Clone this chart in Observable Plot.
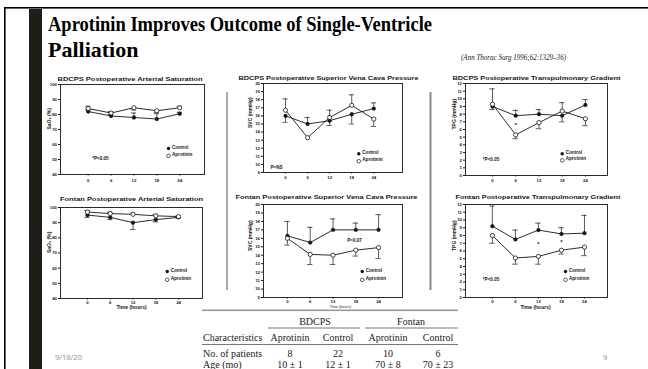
<!DOCTYPE html>
<html><head><meta charset="utf-8">
<script src="https://cdn.jsdelivr.net/npm/d3@7"></script>
<script src="https://cdn.jsdelivr.net/npm/@observablehq/plot@0.6"></script>
<style>
html,body{margin:0;padding:0;background:#fff;}
#slide{position:relative;width:648px;height:369px;overflow:hidden;background:#fff;}
.chart{position:absolute;}
</style></head><body><div id="slide"></div>
<script>
// ---------- data ----------
const hours = [0, 6, 12, 18, 24];
const seriesNames = ["Control", "Aprotinin"];
const satTicks = [40, 50, 60, 70, 80, 90, 100];
const svcTicks = [9, 10, 11, 12, 13, 14, 15, 16, 17, 18, 19, 20];
const tpgTicks = [0, 1, 2, 3, 4, 5, 6, 7, 8, 9, 10, 11, 12];

// BDCPS postoperative arterial saturation (%)
const bdcpsSatControl      = [82, 79, 78, 77, 80.5];
const bdcpsSatControlErr   = [83, 80, 81, 80.5, 81.5];
const bdcpsSatAprotinin    = [84, 81, 84.5, 82.5, 84.5];
const bdcpsSatAprotininErr = [85.5, 82, 83, 81.5, 85.5];

// BDCPS postoperative SVC pressure (mmHg)
const bdcpsSvcControl      = [16.0, 15.0, 15.4, 16.2, 16.9];
const bdcpsSvcControlErr   = [15.2, 15.8, 14.8, 15.0, 17.6];
const bdcpsSvcAprotinin    = [16.7, 13.3, 15.8, 17.3, 15.6];
const bdcpsSvcAprotininErr = [18.1, 13.3, 16.7, 18.6, 14.7];

// BDCPS postoperative transpulmonary gradient (mmHg)
const bdcpsTpgControl      = [9.0, 7.8, 8.0, 7.8, 9.2];
const bdcpsTpgControlErr   = [8.6, 8.5, 8.6, 7.0, 9.9];
const bdcpsTpgAprotinin    = [9.3, 5.3, 6.9, 8.4, 7.4];
const bdcpsTpgAprotininErr = [11.3, 4.8, 6.1, 9.5, 6.5];
const bdcpsTpgStarHours  = [6];
const bdcpsTpgStarValues = [6.7];

// Fontan postoperative arterial saturation (%)
const fontanSatControl      = [95, 93.5, 90, 92, 93.5];
const fontanSatControlErr   = [93.5, 92, 85.5, 90.5, 93];
const fontanSatAprotinin    = [97, 96, 95.5, 94.5, 94];
const fontanSatAprotininErr = [98, 97, 96.3, 95.5, 94.5];

// Fontan postoperative SVC pressure (mmHg)
const fontanSvcControl      = [16.3, 15.5, 17.0, 17.0, 17.0];
const fontanSvcControlErr   = [18.0, 17.3, 18.3, 17.8, 18.8];
const fontanSvcAprotinin    = [16.0, 14.1, 14.0, 14.6, 14.9];
const fontanSvcAprotininErr = [15.2, 12.9, 12.9, 13.9, 13.6];

// Fontan postoperative transpulmonary gradient (mmHg)
const fontanTpgControl      = [9.2, 7.5, 8.7, 8.2, 8.3];
const fontanTpgControlErr   = [11.8, 8.7, 9.6, 9.0, 10.6];
const fontanTpgAprotinin    = [8.0, 5.1, 5.3, 6.1, 6.5];
const fontanTpgAprotininErr = [7.0, 4.3, 4.3, 5.6, 5.4];
const fontanTpgStarHours  = [12, 18];
const fontanTpgStarValues = [7.0, 7.3];

// Texts
const slideTitle1 = "Aprotinin Improves Outcome of Single-Ventricle";
const slideTitle2 = "Palliation";
const citation = "(Ann Thorac Surg 1996;62:1329\u201336)";
const footerDate = "9/18/20";
const footerPage = "9";
const tableGroups = ["BDCPS", "Fontan"];
const tableHeader = ["Characteristics", "Aprotinin", "Control", "Aprotinin", "Control"];
const tableRow1 = ["No. of patients", "8", "22", "10", "6"];
const tableRow2 = ["Age (mo)", "10 \u00b1 1", "12 \u00b1 1", "70 \u00b1 8", "70 \u00b1 23"];

// ---------- layout ----------
const charts = [
  {title:"BDCPS Postoperative Arterial Saturation", tw:145, tdx:-2.5, tdy:-8, frame:[60,84,204,174], xd:[-7.26,30.5], yd:[40,100], yt:satTicks, yl:"SaO\u2082 (%)", yldx:-11, tp:2.5,
   c:bdcpsSatControl, ce:bdcpsSatControlErr, a:bdcpsSatAprotinin, ae:bdcpsSatAprotininErr, leg:[-36,-26,7.4],
   note:{t:"*P<0.05", anchor:"bottom-left", dx:31.7, dy:-14.7}},
  {title:"BDCPS Postoperative Superior Vena Cava Pressure", tw:180, tdx:-4.5, tdy:-8, frame:[263,83,402,172], xd:[-5.98,31.8], yd:[9,20], yt:svcTicks, yl:"SVC (mmHg)", yldx:-13, tp:1.5,
   c:bdcpsSvcControl, ce:bdcpsSvcControlErr, a:bdcpsSvcAprotinin, ae:bdcpsSvcAprotininErr, leg:[-43.7,-18.7,7.4],
   note:{t:"P=NS", anchor:"bottom-left", dx:7, dy:-3.7}},
  {title:"BDCPS Postoperative Transpulmonary Gradient", tw:168, tdx:0, tdy:-8, frame:[465,83,607,175], xd:[-6.97,29.7], yd:[0,12], yt:tpgTicks, yl:"TPG (mmHg)", yldx:-11, tp:1.5,
   c:bdcpsTpgControl, ce:bdcpsTpgControlErr, a:bdcpsTpgAprotinin, ae:bdcpsTpgAprotininErr, leg:[-45.3,-21.7,6.5],
   sh:bdcpsTpgStarHours, sv:bdcpsTpgStarValues,
   note:{t:"*P<0.05", anchor:"bottom-left", dx:17.3, dy:-15}},
  {title:"Fontan Postoperative Arterial Saturation", tw:143, tdx:0, tdy:-11, frame:[60,207,202,298], xd:[-7.1,30.3], yd:[40,100], yt:satTicks, yl:"SaO\u2082 (%)", yldx:-11, tp:0.8,
   c:fontanSatControl, ce:fontanSatControlErr, a:fontanSatAprotinin, ae:fontanSatAprotininErr, leg:[-35.3,-27,8.3],
   xl:"Time (hours)", xldx:0, xldy:10.5, xlfs:5},
  {title:"Fontan Postoperative Superior Vena Cava Pressure", tw:182, tdx:-6.5, tdy:-9.5, frame:[263,204,402,297], xd:[-6.3,30.3], yd:[9,20], yt:svcTicks, yl:"SVC (mmHg)", yldx:-13, tp:0.8,
   c:fontanSvcControl, ce:fontanSvcControlErr, a:fontanSvcAprotinin, ae:fontanSvcAprotininErr, leg:[-40.3,-26,8.3],
   xl:"Time (hours)", xldx:7.5, xldy:10.5, xlfs:3.5,
   note:{t:"P=0.07", anchor:"top-left", dx:83.7, dy:34.3}},
  {title:"Fontan Postoperative Transpulmonary Gradient", tw:165, tdx:1.5, tdy:-9.5, frame:[465,204,607,297], xd:[-7.0,30.0], yd:[0,12], yt:tpgTicks, yl:"TPG (mmHg)", yldx:-11, tp:0.8,
   c:fontanTpgControl, ce:fontanTpgControlErr, a:fontanTpgAprotinin, ae:fontanTpgAprotininErr, leg:[-42,-26,8.3],
   sh:fontanTpgStarHours, sv:fontanTpgStarValues,
   xl:"Time (hours)", xldx:-1, xldy:11.5, xlfs:5,
   note:{t:"*P<0.05", anchor:"bottom-left", dx:17.3, dy:-17}}
];

const slide = d3.select("#slide");
const ink = "#161616";
const sans = "'Liberation Sans', Arial, Helvetica, sans-serif";
const serif = "'Liberation Serif', 'Times New Roman', serif";

// ---------- decoration / slide text ----------
const deco = slide.append("svg").attr("width", 648).attr("height", 369)
  .style("position", "absolute").style("left", "0px").style("top", "0px");
deco.append("rect").attr("x", 4).attr("y", 7).attr("width", 644).attr("height", 1.6).attr("fill", "#000");
deco.append("rect").attr("x", 4).attr("y", 7).attr("width", 1.6).attr("height", 362).attr("fill", "#000");
deco.append("rect").attr("x", 29).attr("y", 9).attr("width", 13).attr("height", 360).attr("fill", "#1e1e16");
deco.append("rect").attr("x", 226.5).attr("y", 92).attr("width", 1).attr("height", 198).attr("fill", "#555");
deco.append("rect").attr("x", 429.5).attr("y", 92).attr("width", 2).attr("height", 198).attr("fill", "#8a8a8a");

deco.append("text").attr("x", 48).attr("y", 31).attr("font-family", serif).attr("font-weight", "bold")
  .attr("font-size", 22).attr("fill", "#000").attr("textLength", 384).attr("lengthAdjust", "spacingAndGlyphs").text(slideTitle1);
deco.append("text").attr("x", 48).attr("y", 57).attr("font-family", serif).attr("font-weight", "bold")
  .attr("font-size", 22).attr("fill", "#000").text(slideTitle2);
deco.append("text").attr("x", 461).attr("y", 59.5).attr("font-family", serif).attr("font-style", "italic")
  .attr("font-size", 7.5).attr("fill", "#222").attr("textLength", 105).attr("lengthAdjust", "spacingAndGlyphs").text(citation);

deco.append("text").attr("x", 55).attr("y", 360).attr("font-family", "'Open Sans', 'Liberation Sans', sans-serif")
  .attr("font-size", 7.5).attr("fill", "#8c8c8c").text(footerDate);
deco.append("text").attr("x", 603).attr("y", 360).attr("font-family", "'Open Sans', 'Liberation Sans', sans-serif")
  .attr("font-size", 7.5).attr("fill", "#8c8c8c").text(footerPage);

// table
const colX = [203, 290, 338, 388, 438];
const groupX = [315, 411];
const tcol = "#1a1a1a";
deco.append("rect").attr("x", 202).attr("y", 309.5).attr("width", 256).attr("height", 1.6).attr("fill", "#999");
tableGroups.forEach((g, i) => {
  deco.append("text").attr("x", groupX[i]).attr("y", 324.5).attr("text-anchor", "middle")
    .attr("font-family", serif).attr("font-size", 10).attr("fill", tcol).text(g);
});
deco.append("rect").attr("x", 268).attr("y", 327.5).attr("width", 92).attr("height", 1).attr("fill", "#777");
deco.append("rect").attr("x", 365).attr("y", 327.5).attr("width", 93).attr("height", 1).attr("fill", "#777");
tableHeader.forEach((h, i) => {
  deco.append("text").attr("x", colX[i]).attr("y", 341).attr("text-anchor", i === 0 ? "start" : "middle")
    .attr("font-family", serif).attr("font-size", 10).attr("fill", tcol).text(h);
});
deco.append("rect").attr("x", 202).attr("y", 344).attr("width", 256).attr("height", 1).attr("fill", "#777");
[tableRow1, tableRow2].forEach((row, r) => {
  row.forEach((v, i) => {
    deco.append("text").attr("x", colX[i]).attr("y", r === 0 ? 357 : 367.5).attr("text-anchor", i === 0 ? "start" : "middle")
      .attr("font-family", serif).attr("font-size", 10).attr("fill", tcol).text(v);
  });
});

// ---------- charts ----------
const mL = 26, mT = 16, mR = 20, mB = 16;
charts.forEach(cfg => {
  const [x0, y0, x1, y1] = cfg.frame;
  const ctrl = hours.map((h, i) => ({hour: h, value: cfg.c[i], err: cfg.ce[i]}));
  const apro = hours.map((h, i) => ({hour: h, value: cfg.a[i], err: cfg.ae[i]}));
  const stars = (cfg.sh || []).map((h, i) => ({hour: h, value: cfg.sv[i]}));
  const errMarks = d => [
    Plot.ruleX(d, {x: "hour", y1: "value", y2: "err", stroke: ink, strokeWidth: 0.7}),
    Plot.ruleY(d.filter(e => e.err !== e.value), {y: "err", x1: e => e.hour - 0.7, x2: e => e.hour + 0.7, stroke: ink, strokeWidth: 0.7})
  ];
  const [lx, ly, lgap] = cfg.leg;
  const marks = [
    Plot.frame({stroke: ink, strokeWidth: 0.9}),
    ...errMarks(ctrl), ...errMarks(apro),
    Plot.line(ctrl, {x: "hour", y: "value", stroke: ink, strokeWidth: 0.9}),
    Plot.line(apro, {x: "hour", y: "value", stroke: ink, strokeWidth: 0.9}),
    Plot.dot(ctrl, {x: "hour", y: "value", r: 1.9, fill: ink, stroke: ink, strokeWidth: 0.3}),
    Plot.dot(apro, {x: "hour", y: "value", r: 2.1, fill: "white", stroke: ink, strokeWidth: 0.8}),
    Plot.text(stars, {x: "hour", y: "value", text: () => "*", fontSize: 6, fill: ink, dy: 1}),
    Plot.text([cfg.title], {frameAnchor: "top", dx: cfg.tdx, dy: cfg.tdy, fontSize: 6, fontWeight: "bold", fill: ink}),
    Plot.text([cfg.yl], {frameAnchor: "left", dx: cfg.yldx, rotate: -90, fontSize: 5, fontWeight: "bold", fill: ink}),
    // legend
    Plot.dot([seriesNames[0]], {frameAnchor: "bottom-right", dx: lx, dy: ly, r: 1.7, fill: ink}),
    Plot.dot([seriesNames[1]], {frameAnchor: "bottom-right", dx: lx, dy: ly + lgap, r: 1.8, fill: "white", stroke: ink, strokeWidth: 0.7}),
    Plot.text([seriesNames[0]], {frameAnchor: "bottom-right", dx: lx + 3.5, dy: ly, textAnchor: "start", fontSize: 4.6, fill: ink}),
    Plot.text([seriesNames[1]], {frameAnchor: "bottom-right", dx: lx + 3.5, dy: ly + lgap, textAnchor: "start", fontSize: 4.6, fill: ink})
  ];
  if (cfg.note) marks.push(Plot.text([cfg.note.t], {frameAnchor: cfg.note.anchor, dx: cfg.note.dx, dy: cfg.note.dy, textAnchor: "start", fontSize: 4.6, fill: ink}));
  if (cfg.xl) marks.push(Plot.text([cfg.xl], {frameAnchor: "bottom", dx: cfg.xldx, dy: cfg.xldy, fontSize: cfg.xlfs, fontWeight: "bold", fill: cfg.xlfs < 4 ? "#666" : ink}));

  const svg = Plot.plot({
    width: x1 - x0 + mL + mR, height: y1 - y0 + mT + mB,
    marginLeft: mL, marginTop: mT, marginRight: mR, marginBottom: mB,
    style: {background: "transparent", overflow: "visible", fontFamily: sans, fontWeight: "bold", fontSize: "4.3px", color: ink},
    x: {domain: cfg.xd, ticks: hours, tickSize: 1.5, tickPadding: cfg.tp, label: null},
    y: {domain: cfg.yd, ticks: cfg.yt, tickSize: 2, tickPadding: 1.5, label: null},
    marks
  });
  d3.select(svg).selectAll("text").filter(function() { return this.textContent === cfg.title; })
    .attr("textLength", cfg.tw).attr("lengthAdjust", "spacingAndGlyphs");
  const div = slide.append("div").attr("class", "chart")
    .style("left", (x0 - mL) + "px").style("top", (y0 - mT) + "px");
  div.node().appendChild(svg);
});
</script></body></html>
